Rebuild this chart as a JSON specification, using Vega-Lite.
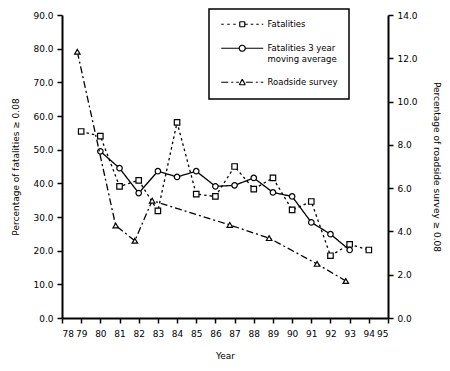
{
  "$schema": "https://vega.github.io/schema/vega-lite/v6.json",
  "width": 326,
  "height": 303,
  "autosize": {"type": "none"},
  "padding": {"left": 62, "top": 15, "right": 62, "bottom": 53},
  "background": "white",
  "config": {
    "view": {"stroke": null},
    "font": "DejaVu Sans",
    "axis": {
      "domainColor": "black", "domainWidth": 2, "tickColor": "black", "tickWidth": 1.5, "tickSize": 5,
      "labelFont": "DejaVu Sans", "labelFontSize": 9, "labelColor": "black", "labelOverlap": false,
      "titleFont": "DejaVu Sans", "titleFontSize": 9, "titleFontWeight": "normal", "titleColor": "black",
      "grid": false
    }
  },
  "layer": [
    {
      "data": {"values": [
        {"series": "Fatalities", "year": 79, "value": 55.4},
        {"series": "Fatalities", "year": 80, "value": 54.0},
        {"series": "Fatalities", "year": 81, "value": 39.1},
        {"series": "Fatalities", "year": 82, "value": 40.9},
        {"series": "Fatalities", "year": 83, "value": 31.8},
        {"series": "Fatalities", "year": 84, "value": 58.1},
        {"series": "Fatalities", "year": 85, "value": 36.8},
        {"series": "Fatalities", "year": 86, "value": 36.1},
        {"series": "Fatalities", "year": 87, "value": 45.0},
        {"series": "Fatalities", "year": 88, "value": 38.3},
        {"series": "Fatalities", "year": 89, "value": 41.6},
        {"series": "Fatalities", "year": 90, "value": 32.1},
        {"series": "Fatalities", "year": 91, "value": 34.6},
        {"series": "Fatalities", "year": 92, "value": 18.5},
        {"series": "Fatalities", "year": 93, "value": 21.9},
        {"series": "Fatalities", "year": 94, "value": 20.2},
        {"series": "Fatalities 3 year moving average", "year": 80, "value": 49.5},
        {"series": "Fatalities 3 year moving average", "year": 81, "value": 44.5},
        {"series": "Fatalities 3 year moving average", "year": 82, "value": 37.1},
        {"series": "Fatalities 3 year moving average", "year": 83, "value": 43.6},
        {"series": "Fatalities 3 year moving average", "year": 84, "value": 41.9},
        {"series": "Fatalities 3 year moving average", "year": 85, "value": 43.6},
        {"series": "Fatalities 3 year moving average", "year": 86, "value": 39.1},
        {"series": "Fatalities 3 year moving average", "year": 87, "value": 39.4},
        {"series": "Fatalities 3 year moving average", "year": 88, "value": 41.6},
        {"series": "Fatalities 3 year moving average", "year": 89, "value": 37.3},
        {"series": "Fatalities 3 year moving average", "year": 90, "value": 36.1},
        {"series": "Fatalities 3 year moving average", "year": 91, "value": 28.4},
        {"series": "Fatalities 3 year moving average", "year": 92, "value": 24.9},
        {"series": "Fatalities 3 year moving average", "year": 93, "value": 20.2}
      ]},
      "encoding": {
        "x": {"field": "year", "type": "quantitative",
          "scale": {"domain": [78, 95], "nice": false, "zero": false},
          "axis": {"title": "Year", "values": [78,79,80,81,82,83,84,85,86,87,88,89,90,91,92,93,94,95], "format": "d", "labelPadding": 6, "titlePadding": 13,
            "encode": {"ticks": {"update": {"y": {"value": -5}}}}}},
        "y": {"field": "value", "type": "quantitative",
          "scale": {"domain": [0, 90], "nice": false},
          "axis": {"title": "Percentage of fatalities ≥ 0.08", "values": [0,10,20,30,40,50,60,70,80,90], "format": ".1f", "orient": "left", "labelPadding": 4, "titlePadding": 12,
            "encode": {"ticks": {"update": {"x": {"value": 5}}}}}}
      },
      "layer": [
        {
          "mark": {"type": "line", "color": "black", "strokeWidth": 1.3},
          "encoding": {
            "detail": {"field": "series"},
            "strokeDash": {"field": "series", "type": "nominal",
              "scale": {"domain": ["Fatalities", "Fatalities 3 year moving average", "Roadside survey"], "range": [[2.5, 3], [1, 0], [7, 3, 2, 3]]},
              "legend": {
                "title": null, "orient": "none", "legendX": 147, "legendY": -6,
                "symbolSize": 4, "symbolStrokeColor": "black", "symbolStrokeWidth": 1.2,
                "labelFont": "DejaVu Sans", "labelFontSize": 8.5, "labelColor": "black", "labelLimit": 200,
                "labelExpr": "datum.label == 'Fatalities 3 year moving average' ? ['Fatalities 3 year', 'moving average'] : datum.label",
                "strokeColor": "black", "padding": 11, "rowPadding": 12, "labelOffset": 39,
                "fillColor": "white",
                "encode": {
                  "legend": {"update": {"strokeWidth": {"value": 1.5}}},
                  "symbols": {"update": {
                    "fill": {"value": "transparent"},
                    "shape": {"signal": "datum.value == 'Fatalities' ? 'M-3,0H0M3,0H6M9,0H12M15.5,-2.5H18M18,-2.5H20.5M20.5,-2.5V0M20.5,0V2.5M20.5,2.5H18M18,2.5H15.5M15.5,2.5V0M15.5,0V-2.5M21,0H23.5M26.5,0H29M32,0H34.5M37.5,0H39' : datum.value == 'Roadside survey' ? 'M-3,0H14.5M15,2.5H21M21,2.5L18,-3M18,-3L15,2.5M21.5,0H39' : 'M-3,0H15M21,0H39M21,0A3,3 0 1,1 15,0A3,3 0 1,1 21,0'"}
                  }}
                }
              }
            }
          }
        },
        {
          "transform": [{"filter": "datum.series == 'Fatalities'"}],
          "mark": {"type": "point", "shape": "square", "filled": true, "fill": "white", "stroke": "black", "strokeWidth": 1.2, "opacity": 1, "size": 30}
        },
        {
          "transform": [{"filter": "datum.series != 'Fatalities'"}],
          "mark": {"type": "point", "shape": "circle", "filled": true, "fill": "white", "stroke": "black", "strokeWidth": 1.2, "opacity": 1, "size": 30}
        }
      ]
    },
    {
      "data": {"values": [
        {"series": "Roadside survey", "year": 78.8, "value": 12.3},
        {"series": "Roadside survey", "year": 80.8, "value": 4.27},
        {"series": "Roadside survey", "year": 81.8, "value": 3.57},
        {"series": "Roadside survey", "year": 82.7, "value": 5.42},
        {"series": "Roadside survey", "year": 86.75, "value": 4.3},
        {"series": "Roadside survey", "year": 88.8, "value": 3.69},
        {"series": "Roadside survey", "year": 91.3, "value": 2.5},
        {"series": "Roadside survey", "year": 92.8, "value": 1.71}
      ]},
      "encoding": {
        "x": {"field": "year", "type": "quantitative", "scale": {"domain": [78, 95], "nice": false, "zero": false},
          "axis": {"title": "Year", "values": [78,79,80,81,82,83,84,85,86,87,88,89,90,91,92,93,94,95], "format": "d", "labelPadding": 6, "titlePadding": 13,
            "encode": {"ticks": {"update": {"y": {"value": -5}}}}}},
        "y": {"field": "value", "type": "quantitative",
          "scale": {"domain": [0, 14], "nice": false},
          "axis": {"title": "Percentage of roadside survey ≥ 0.08", "values": [0,2,4,6,8,10,12,14], "format": ".1f", "orient": "right", "labelPadding": 4, "titlePadding": 14,
            "encode": {"ticks": {"update": {"x": {"value": -5}}}}}}
      },
      "layer": [
        {
          "mark": {"type": "line", "color": "black", "strokeWidth": 1.3},
          "encoding": {
            "strokeDash": {"field": "series", "type": "nominal",
              "scale": {"domain": ["Fatalities", "Fatalities 3 year moving average", "Roadside survey"], "range": [[2.5, 3], [1, 0], [7, 3, 2, 3]]}}
          }
        },
        {
          "mark": {"type": "point", "shape": "triangle-up", "filled": true, "fill": "white", "stroke": "black", "strokeWidth": 1.2, "opacity": 1, "size": 30}
        }
      ]
    }
  ],
  "resolve": {"scale": {"y": "independent"}, "axis": {"y": "independent"}}
}
